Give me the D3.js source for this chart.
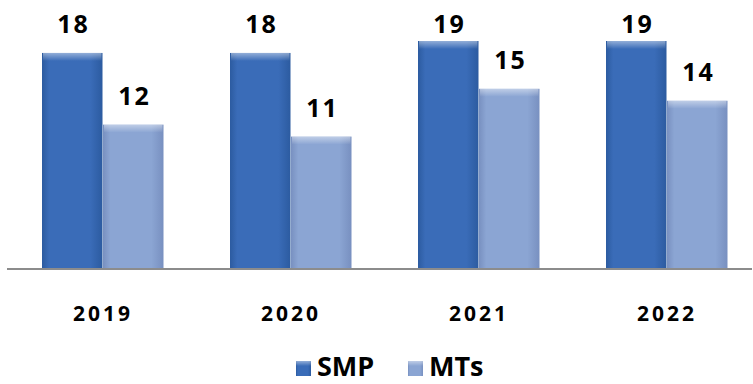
<!DOCTYPE html>
<html>
<head>
<meta charset="utf-8">
<script src="https://cdn.jsdelivr.net/npm/d3@7/dist/d3.min.js"></script>
<style>
  html, body { margin: 0; padding: 0; background: #fff; }
  svg { display: block; font-family: "Open Sans", "Noto Sans", sans-serif; }
</style>
</head>
<body>
<svg id="chart" width="753" height="384"></svg>
<script>
const years = ["2019", "2020", "2021", "2022"];
const seriesNames = ["SMP", "MTs"];
const smp = [18, 18, 19, 19];
const mts = [12, 11, 15, 14];

const W = 753, H = 384;
const svg = d3.select("#chart");
const defs = svg.append("defs");

// Horizontal gradients give the bars their rounded, shaded look
function barGradient(id, edge, mid) {
  const g = defs.append("linearGradient").attr("id", id)
    .attr("x1", "0%").attr("x2", "100%").attr("y1", "0%").attr("y2", "0%");
  g.append("stop").attr("offset", "0%").attr("stop-color", edge);
  g.append("stop").attr("offset", "12%").attr("stop-color", mid);
  g.append("stop").attr("offset", "80%").attr("stop-color", mid);
  g.append("stop").attr("offset", "100%").attr("stop-color", edge);
}
barGradient("gSMP", "#2c5ba0", "#3a6cb8");
barGradient("gMTs", "#7890c0", "#8ba5d3");

const topGrad = defs.append("linearGradient").attr("id", "gTop")
  .attr("x1", "0%").attr("x2", "0%").attr("y1", "0%").attr("y2", "100%");
topGrad.append("stop").attr("offset", "0%").attr("stop-color", "#ffffff").attr("stop-opacity", 0.45);
topGrad.append("stop").attr("offset", "100%").attr("stop-color", "#ffffff").attr("stop-opacity", 0);

const fills = { SMP: "url(#gSMP)", MTs: "url(#gMTs)" };

const x0 = d3.scaleBand().domain(years).range([9, 761]).paddingInner(0).paddingOuter(0);
const x1 = d3.scaleBand().domain(seriesNames).range([0, 122]);
const y = d3.scaleLinear().domain([0, 19]).range([268, 41]);

const rows = years.map((yr, i) => ({ year: yr, values: [
  { key: "SMP", value: smp[i] },
  { key: "MTs", value: mts[i] }
]}));

const groups = svg.append("g").selectAll("g").data(rows).join("g")
  .attr("transform", d => `translate(${x0(d.year) + x0.bandwidth() / 2 - 61},0)`);

groups.selectAll("rect.bar").data(d => d.values).join("rect")
  .attr("class", "bar")
  .attr("x", d => x1(d.key))
  .attr("width", x1.bandwidth() - 0.5)
  .attr("y", d => y(d.value))
  .attr("height", d => y(0) - y(d.value))
  .attr("fill", d => fills[d.key]);

// bevel highlight along the top edge
groups.selectAll("rect.bevel").data(d => d.values).join("rect")
  .attr("class", "bevel")
  .attr("x", d => x1(d.key) + 1)
  .attr("width", x1.bandwidth() - 2.5)
  .attr("y", d => y(d.value))
  .attr("height", 8)
  .attr("fill", "url(#gTop)");

// value labels sit above the bars, but never above the top of the plot area
groups.selectAll("text.val").data(d => d.values).join("text")
  .attr("class", "val")
  .attr("x", d => x1(d.key) + x1.bandwidth() / 2 + 1)
  .attr("y", d => Math.max(y(d.value) - 20, 33))
  .attr("text-anchor", "middle")
  .attr("font-size", 25)
  .attr("font-weight", 700)
  .attr("letter-spacing", 2)
  .attr("fill", "#000")
  .text(d => d.value);

// baseline
svg.append("line")
  .attr("x1", 7).attr("x2", 752)
  .attr("y1", y(0) + 1).attr("y2", y(0) + 1)
  .attr("stroke", "#8c8c8c").attr("stroke-width", 2);

// category labels
svg.append("g").selectAll("text").data(years).join("text")
  .attr("x", d => x0(d) + x0.bandwidth() / 2)
  .attr("y", 321)
  .attr("text-anchor", "middle")
  .attr("font-size", 21)
  .attr("font-weight", 700)
  .attr("letter-spacing", 3)
  .attr("fill", "#000")
  .text(d => d);

// legend
const legendX = [296, 408];
const legend = svg.append("g").selectAll("g").data(seriesNames).join("g")
  .attr("transform", (d, i) => `translate(${legendX[i]},361)`);
legend.append("rect")
  .attr("width", 15).attr("height", 15)
  .attr("fill", d => fills[d]);
legend.append("rect")
  .attr("width", 15).attr("height", 5)
  .attr("fill", "url(#gTop)");
legend.append("text")
  .attr("x", 21).attr("y", 15)
  .attr("font-size", 27)
  .attr("font-weight", 700)
  .attr("fill", "#000")
  .text(d => d);
</script>
</body>
</html>
